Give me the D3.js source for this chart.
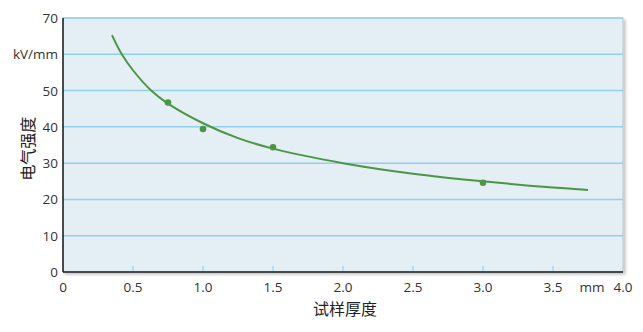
<html lang="zh">
<head>
<meta charset="UTF-8"/>
<title>电气强度</title>
<script src="https://d3js.org/d3.v7.min.js"></script>
<style>
    body { margin: 0; background: #ffffff; }
    text { font-family: "Open Sans", "Noto Sans", sans-serif; }
</style>
</head>
<body>
<script>
    // measured points
    var thickness = [0.75, 1.0, 1.5, 3.0];
    var strength = [46.7, 39.4, 34.4, 24.6];

    // fitted curve
    var curveX = [0.35, 0.42, 0.5, 0.63, 0.75, 1.0, 1.25, 1.5, 2.0, 2.5, 3.0, 3.5, 3.75];
    var curveY = [65.3, 60.0, 55.6, 50.0, 46.4, 41.0, 36.9, 34.0, 30.0, 27.1, 25.0, 23.3, 22.6];

    var xTicks = [0, 0.5, 1.0, 1.5, 2.0, 2.5, 3.0, 3.5, 4.0];
    var xTickLabels = ["0", "0.5", "1.0", "1.5", "2.0", "2.5", "3.0", "3.5", "4.0"];
    var yTicks = [0, 10, 20, 30, 40, 50, 60, 70];
    var yTickLabels = ["0", "10", "20", "30", "40", "50", "kV/mm", "70"];

    var w = 643, h = 332;
    var padL = 63, padR = 623, padT = 18, padB = 272;

    var xScale = d3.scaleLinear().domain([0, 4]).range([padL, padR]);
    var yScale = d3.scaleLinear().domain([0, 70]).range([padB, padT]);

    var svg = d3.select("body").append("svg")
        .attr("width", w)
        .attr("height", h);

    var defs = svg.append("defs");
    var f = defs.append("filter").attr("id", "shadow")
        .attr("x", "-10%").attr("y", "-10%").attr("width", "120%").attr("height", "120%");
    f.append("feDropShadow").attr("dx", 2).attr("dy", 2).attr("stdDeviation", 1.5)
        .attr("flood-color", "#000").attr("flood-opacity", 0.25);

    // plot background
    svg.append("rect")
        .attr("x", padL).attr("y", padT)
        .attr("width", padR - padL).attr("height", padB - padT)
        .attr("fill", "#e3eef5")
        .attr("stroke", "#b9c4ca")
        .attr("stroke-width", 1)
        .attr("filter", "url(#shadow)");

    // grid lines
    svg.append("g").selectAll("line")
        .data(yTicks.filter(function(d) { return d > 0; }))
        .enter().append("line")
        .attr("x1", padL).attr("x2", padR)
        .attr("y1", function(d) { return yScale(d); })
        .attr("y2", function(d) { return yScale(d); })
        .attr("stroke", "#93d0ee")
        .attr("stroke-width", 1.5);

    // small ticks on x axis
    svg.append("g").selectAll("line")
        .data(xTicks.slice(1, -1))
        .enter().append("line")
        .attr("x1", function(d) { return xScale(d); })
        .attr("x2", function(d) { return xScale(d); })
        .attr("y1", padB)
        .attr("y2", padB - 6)
        .attr("stroke", "#93d0ee")
        .attr("stroke-width", 1);

    // axes lines
    svg.append("line")
        .attr("x1", padL).attr("x2", padL)
        .attr("y1", padT).attr("y2", padB)
        .attr("stroke", "#1a1a1a").attr("stroke-width", 1.5);
    svg.append("line")
        .attr("x1", padL).attr("x2", padR)
        .attr("y1", padB).attr("y2", padB)
        .attr("stroke", "#1a1a1a").attr("stroke-width", 1.5);

    // curve
    var line = d3.line()
        .x(function(d, i) { return xScale(curveX[i]); })
        .y(function(d) { return yScale(d); })
        .curve(d3.curveCatmullRom.alpha(0.5));

    svg.append("path")
        .datum(curveY)
        .attr("d", line)
        .attr("fill", "none")
        .attr("stroke", "#4b9643")
        .attr("stroke-width", 2);

    // points
    svg.append("g").selectAll("circle")
        .data(strength)
        .enter().append("circle")
        .attr("cx", function(d, i) { return xScale(thickness[i]); })
        .attr("cy", function(d) { return yScale(d); })
        .attr("r", 3.3)
        .attr("fill", "#4b9643");

    // y tick labels
    svg.append("g").selectAll("text")
        .data(yTicks)
        .enter().append("text")
        .attr("x", padL - 5)
        .attr("y", function(d) { return yScale(d) + 5; })
        .attr("text-anchor", "end")
        .attr("font-size", 13.5)
        .attr("fill", "#333")
        .text(function(d, i) { return yTickLabels[i]; });

    // x tick labels
    svg.append("g").selectAll("text")
        .data(xTicks)
        .enter().append("text")
        .attr("x", function(d) { return xScale(d); })
        .attr("y", padB + 20)
        .attr("text-anchor", "middle")
        .attr("font-size", 13.5)
        .attr("fill", "#333")
        .text(function(d, i) { return xTickLabels[i]; });

    svg.append("text")
        .attr("x", xScale(3.75) + 4)
        .attr("y", padB + 20)
        .attr("text-anchor", "middle")
        .attr("font-size", 13.5)
        .attr("fill", "#333")
        .text("mm");

    // axis titles
    svg.append("text")
        .attr("x", xScale(2.0) + 2)
        .attr("y", padB + 43)
        .attr("text-anchor", "middle")
        .attr("font-size", 16)
        .attr("fill", "#222")
        .style("font-family", "'Noto Sans CJK SC', sans-serif")
        .text("试样厚度");

    svg.append("text")
        .attr("transform", "translate(34," + yScale(34) + ") rotate(-90)")
        .attr("text-anchor", "middle")
        .attr("font-size", 16)
        .attr("fill", "#222")
        .style("font-family", "'Noto Sans CJK SC', sans-serif")
        .text("电气强度");
</script>
</body>
</html>
